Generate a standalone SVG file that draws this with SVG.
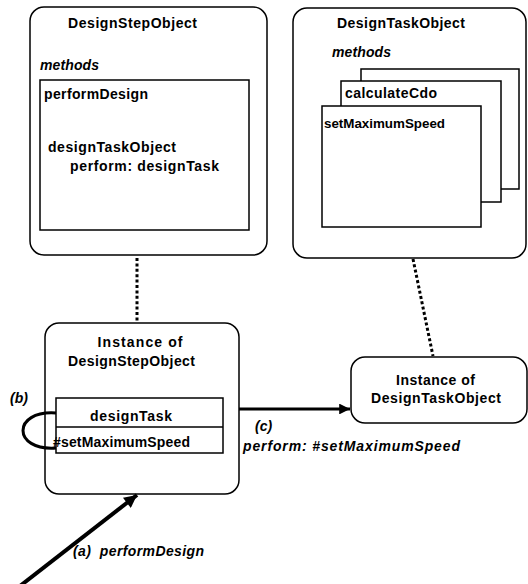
<svg xmlns="http://www.w3.org/2000/svg" width="528" height="584" viewBox="0 0 528 584">
<style>
text{font-family:"Liberation Sans",Arial,sans-serif;font-weight:bold;font-size:14px;fill:#000}
.it{font-style:italic}
.box{fill:#fff;stroke:#000;stroke-width:1.5}
.dot{stroke:#000;stroke-width:3;stroke-dasharray:3 2.4;fill:none}
.arr{stroke:#000;fill:none}
</style>
<defs>
<marker id="ah" viewBox="0 0 10 10" refX="10" refY="5" markerWidth="6" markerHeight="3.6" markerUnits="strokeWidth" orient="auto">
<path d="M0,0 L10,5 L0,10 Z" fill="#000"/>
</marker>
<marker id="ah2" viewBox="0 0 10 10" refX="10" refY="5" markerWidth="5" markerHeight="3.2" markerUnits="strokeWidth" orient="auto">
<path d="M0,0 L10,5 L0,10 Z" fill="#000"/>
</marker>
</defs>
<g id="designStepObject">
<rect class="box" x="30" y="7" width="237" height="248" rx="14"/>
<text x="132.5" y="28" text-anchor="middle" textLength="129" lengthAdjust="spacing">DesignStepObject</text>
<text class="it" x="40" y="70" textLength="59" lengthAdjust="spacing">methods</text>
<rect class="box" x="40" y="80" width="209" height="150"/>
<text x="44" y="99" textLength="104" lengthAdjust="spacing">performDesign</text>
<text x="48" y="152" textLength="128" lengthAdjust="spacing">designTaskObject</text>
<text x="70" y="171" textLength="149" lengthAdjust="spacing">perform: designTask</text>
</g>
<g id="designTaskObject">
<rect class="box" x="293" y="8" width="233" height="250" rx="14"/>
<text x="401" y="28" text-anchor="middle" textLength="128" lengthAdjust="spacing">DesignTaskObject</text>
<text class="it" x="332" y="57" textLength="59" lengthAdjust="spacing">methods</text>
<rect class="box" x="361" y="69" width="158" height="120"/>
<rect class="box" x="341" y="81" width="160" height="121"/>
<text x="345" y="98" textLength="92" lengthAdjust="spacing">calculateCdo</text>
<rect class="box" x="322" y="106" width="159" height="121"/>
<text x="324" y="128" style="font-size:13.4px" textLength="121" lengthAdjust="spacing">setMaximumSpeed</text>
</g>
<g id="instanceDesignStep">
<rect class="box" x="45" y="323" width="194" height="171" rx="14"/>
<text x="140" y="347" text-anchor="middle" textLength="85" lengthAdjust="spacing">Instance of</text>
<text x="131.5" y="366" text-anchor="middle" textLength="127" lengthAdjust="spacing">DesignStepObject</text>
<rect class="box" x="56" y="398" width="167" height="55"/>
<line x1="56" y1="427" x2="223" y2="427" stroke="#000" stroke-width="1.5"/>
<text x="90" y="421" textLength="82" lengthAdjust="spacing">designTask</text>
<text x="53" y="447" textLength="137" lengthAdjust="spacing">#setMaximumSpeed</text>
</g>
<g id="instanceDesignTask">
<rect class="box" x="351" y="357" width="176" height="66" rx="14"/>
<text x="435.5" y="385" text-anchor="middle" textLength="79" lengthAdjust="spacing">Instance of</text>
<text x="436" y="403" text-anchor="middle" textLength="130" lengthAdjust="spacing">DesignTaskObject</text>
</g>
<g id="connectors">
<line class="dot" x1="137" y1="258" x2="137" y2="322"/>
<line class="dot" x1="413" y1="259" x2="433" y2="356"/>
<line class="arr" x1="239" y1="409" x2="350" y2="409" stroke-width="3" marker-end="url(#ah)"/>
<line class="arr" x1="20" y1="586" x2="137" y2="495" stroke-width="4" marker-end="url(#ah2)"/>
<path class="arr" d="M56,413 C12,410 12,451 56,448" stroke-width="3"/>
<text class="it" x="10" y="403" textLength="18" lengthAdjust="spacing">(b)</text>
<text class="it" x="255" y="431">(c)</text>
<text class="it" x="243" y="451" textLength="217" lengthAdjust="spacing">perform: #setMaximumSpeed</text>
<text class="it" x="73" y="556" textLength="131" lengthAdjust="spacing" xml:space="preserve">(a)  performDesign</text>
</g>
</svg>
